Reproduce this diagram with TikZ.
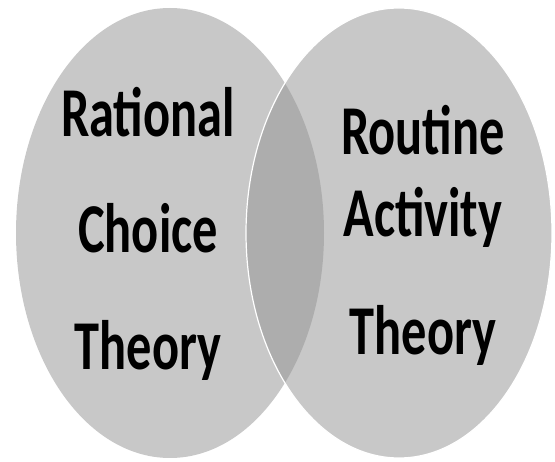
\documentclass[tikz,border=0pt]{standalone}
\usepackage{fontspec}
\setmainfont{Carlito}
\definecolor{setgray}{HTML}{C8C8C8}
\definecolor{overlapgray}{HTML}{ADADAD}
% condensed bold label text
\newcommand{\narrowtxt}[1]{\scalebox{0.72}[1]{#1}}
\begin{document}
\begin{tikzpicture}[x=1pt,y=-1pt,
  lbl/.style={font=\bfseries\fontsize{70}{70}\selectfont, anchor=base,
              inner sep=0pt, text=black}]
\useasboundingbox (0,0) rectangle (555,462);
% the two sets
\fill[setgray] (170,233) ellipse [x radius=154, y radius=225];
\fill[setgray] (399,233) ellipse [x radius=153, y radius=225];
% overlap of the two sets
\begin{scope}
  \clip (170,233) ellipse [x radius=154, y radius=225];
  \fill[overlapgray] (399,233) ellipse [x radius=153, y radius=225];
\end{scope}
\draw[white, line width=1.2pt] (399,233) ellipse [x radius=153, y radius=225];
% labels of the left set
\node[lbl] (rc1) at (148,137) {\narrowtxt{Rational}};
\node[lbl] (rc2) at (148,253) {\narrowtxt{Choice}};
\node[lbl] (rc3) at (148,370) {\narrowtxt{Theory}};
% labels of the right set
\node[lbl] (ra1) at (423,155) {\narrowtxt{Routine}};
\node[lbl] (ra2) at (423,237) {\narrowtxt{Activity}};
\node[lbl] (ra3) at (423,355) {\narrowtxt{Theory}};
\end{tikzpicture}
\end{document}
